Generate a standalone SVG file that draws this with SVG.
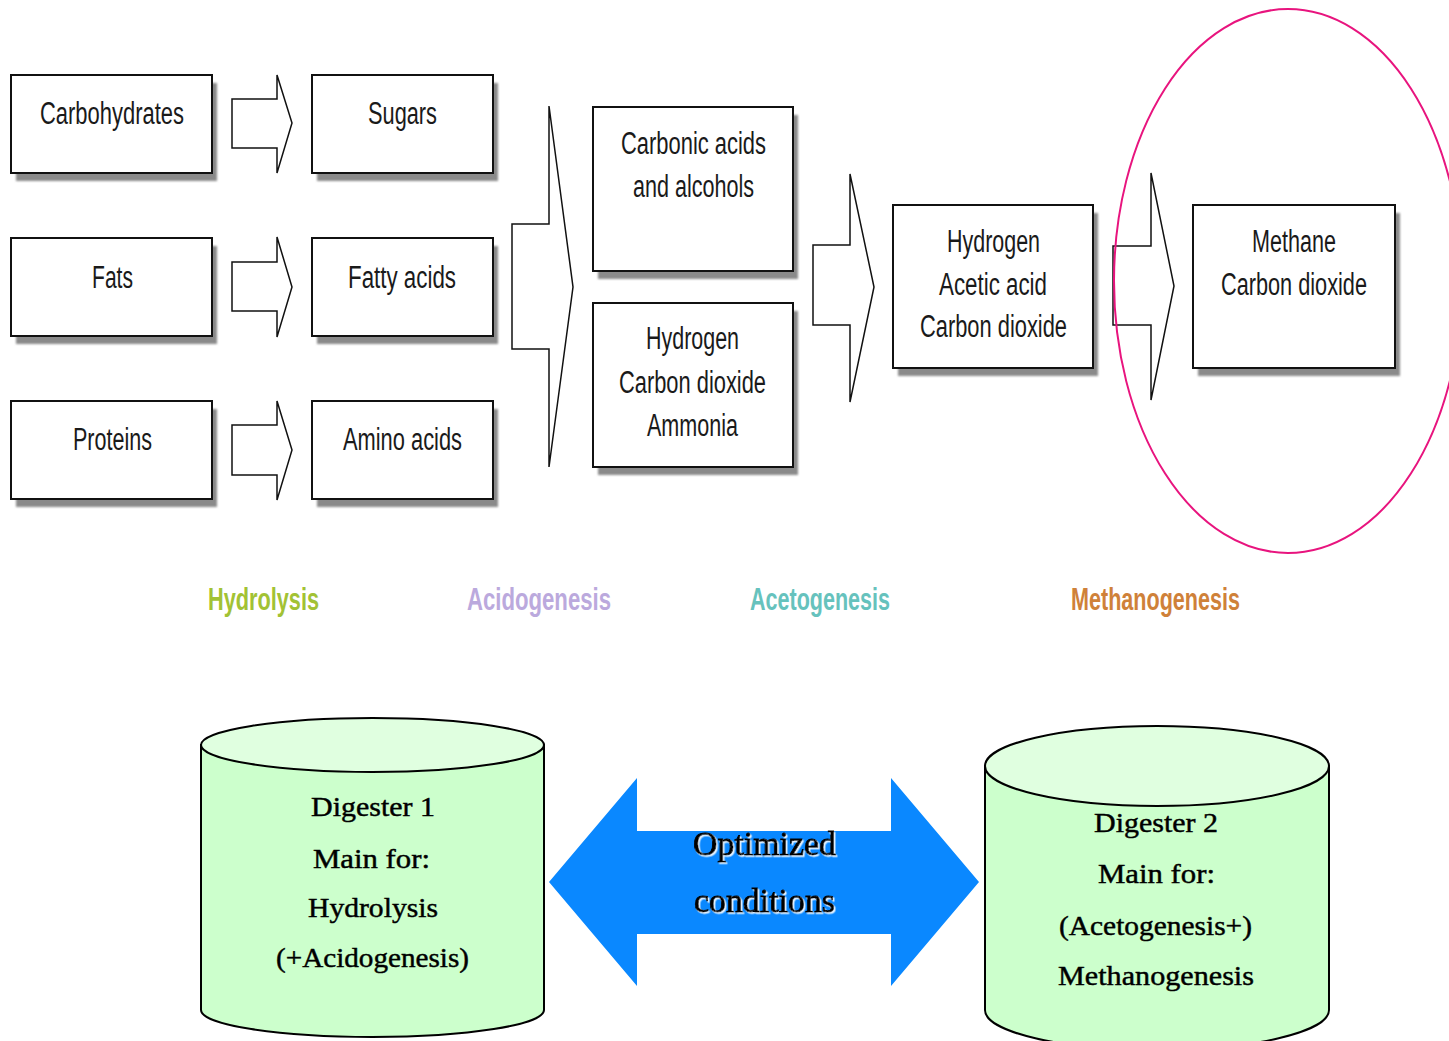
<svg xmlns="http://www.w3.org/2000/svg" width="1449" height="1041" viewBox="0 0 1449 1041">
  <defs>
    <filter id="soft" x="-5%" y="-5%" width="110%" height="110%">
      <feGaussianBlur stdDeviation="0.8"/>
    </filter>
    <filter id="halo" x="-10%" y="-30%" width="120%" height="160%">
      <feDropShadow dx="1.5" dy="1.5" stdDeviation="0.6" flood-color="#ffffff" flood-opacity="0.9"/>
    </filter>
  </defs>
  <style>
    .shadow { fill: #8a8a8a; filter: url(#soft); }
    .box { fill: #ffffff; stroke: #111111; stroke-width: 2; }
    .flow { fill: #ffffff; stroke: #111111; stroke-width: 1.5; stroke-linejoin: miter; }
    .lbl { font-family: "Liberation Sans Narrow", "Liberation Sans", Arial, sans-serif; font-size: 31px; fill: #1a1a1a; text-anchor: middle; }
    .phase { font-family: "Liberation Sans Narrow", "Liberation Sans", Arial, sans-serif; font-size: 32px; font-weight: bold; text-anchor: middle; }
    .tank-side { fill: #ccffcc; stroke: #000000; stroke-width: 2; }
    .tank-top { fill: #e0ffe0; stroke: #000000; stroke-width: 2; }
    .serif { font-family: "Liberation Serif", "Times New Roman", serif; font-size: 28px; fill: #000000; stroke: #000000; stroke-width: 0.45; text-anchor: middle; }
    .opt { font-family: "Liberation Serif", "Times New Roman", serif; font-size: 33px; fill: #000000; stroke: #000000; stroke-width: 0.8; text-anchor: middle; }
  </style>

  <rect x="0" y="0" width="1449" height="1041" fill="#ffffff"/>

  <!-- process flow arrows -->
  <g id="connectors">
    <polygon class="flow" points="232,99 277,99 277,75 292,123 277,173 277,148 232,148"/>
    <polygon class="flow" points="232,262 277,262 277,237 292,287 277,337 277,311 232,311"/>
    <polygon class="flow" points="232,425 277,425 277,401 292,450 277,500 277,475 232,475"/>
    <polygon class="flow" points="512,224 549,224 549,106 573,287 549,467 549,349 512,349"/>
    <polygon class="flow" points="813,245 850,245 850,174 874,287 850,402 850,325 813,325"/>
    <polygon class="flow" points="1113,246 1151,246 1151,173 1174,286 1151,400 1151,325 1113,325"/>
  </g>

  <!-- substrate boxes -->
  <g id="carbohydrates">
    <rect class="shadow" x="16" y="83" width="201" height="98"/>
    <rect class="box" x="11" y="75" width="201" height="98"/>
    <text class="lbl" x="112" y="124" textLength="144" lengthAdjust="spacingAndGlyphs">Carbohydrates</text>
  </g>
  <g id="sugars">
    <rect class="shadow" x="317" y="83" width="181" height="98"/>
    <rect class="box" x="312" y="75" width="181" height="98"/>
    <text class="lbl" x="402.5" y="124" textLength="69" lengthAdjust="spacingAndGlyphs">Sugars</text>
  </g>
  <g id="fats">
    <rect class="shadow" x="16" y="246" width="201" height="98"/>
    <rect class="box" x="11" y="238" width="201" height="98"/>
    <text class="lbl" x="112.5" y="288" textLength="41" lengthAdjust="spacingAndGlyphs">Fats</text>
  </g>
  <g id="fatty-acids">
    <rect class="shadow" x="317" y="246" width="181" height="98"/>
    <rect class="box" x="312" y="238" width="181" height="98"/>
    <text class="lbl" x="402" y="288" textLength="108" lengthAdjust="spacingAndGlyphs">Fatty acids</text>
  </g>
  <g id="proteins">
    <rect class="shadow" x="16" y="409" width="201" height="98"/>
    <rect class="box" x="11" y="401" width="201" height="98"/>
    <text class="lbl" x="112.5" y="450" textLength="79" lengthAdjust="spacingAndGlyphs">Proteins</text>
  </g>
  <g id="amino-acids">
    <rect class="shadow" x="317" y="409" width="181" height="98"/>
    <rect class="box" x="312" y="401" width="181" height="98"/>
    <text class="lbl" x="402.5" y="450" textLength="119" lengthAdjust="spacingAndGlyphs">Amino acids</text>
  </g>

  <!-- acidogenesis products -->
  <g id="carbonic-acids">
    <rect class="shadow" x="598" y="115" width="200" height="164"/>
    <rect class="box" x="593" y="107" width="200" height="164"/>
    <text class="lbl" x="693.5" y="154" textLength="145" lengthAdjust="spacingAndGlyphs">Carbonic acids</text>
    <text class="lbl" x="693.5" y="197" textLength="121" lengthAdjust="spacingAndGlyphs">and alcohols</text>
  </g>
  <g id="gases">
    <rect class="shadow" x="598" y="311" width="200" height="164"/>
    <rect class="box" x="593" y="303" width="200" height="164"/>
    <text class="lbl" x="692.5" y="349" textLength="93" lengthAdjust="spacingAndGlyphs">Hydrogen</text>
    <text class="lbl" x="692.5" y="393" textLength="147" lengthAdjust="spacingAndGlyphs">Carbon dioxide</text>
    <text class="lbl" x="692.5" y="436" textLength="91" lengthAdjust="spacingAndGlyphs">Ammonia</text>
  </g>

  <!-- acetogenesis products -->
  <g id="acetic">
    <rect class="shadow" x="898" y="213" width="200" height="163"/>
    <rect class="box" x="893" y="205" width="200" height="163"/>
    <text class="lbl" x="993.5" y="252" textLength="93" lengthAdjust="spacingAndGlyphs">Hydrogen</text>
    <text class="lbl" x="993" y="295" textLength="108" lengthAdjust="spacingAndGlyphs">Acetic acid</text>
    <text class="lbl" x="993.5" y="337" textLength="147" lengthAdjust="spacingAndGlyphs">Carbon dioxide</text>
  </g>

  <!-- methanogenesis products -->
  <g id="methane">
    <rect class="shadow" x="1198" y="213" width="202" height="163"/>
    <rect class="box" x="1193" y="205" width="202" height="163"/>
    <text class="lbl" x="1294" y="252" textLength="84" lengthAdjust="spacingAndGlyphs">Methane</text>
    <text class="lbl" x="1294" y="295" textLength="146" lengthAdjust="spacingAndGlyphs">Carbon dioxide</text>
  </g>

  <!-- highlight ring -->
  <g id="highlight">
    <ellipse cx="1288" cy="281" rx="174" ry="272" fill="none" stroke="#e8147e" stroke-width="2"/>
  </g>

  <!-- phase names -->
  <g id="phases">
    <text class="phase" x="263.5" y="610" fill="#a2c234" textLength="111" lengthAdjust="spacingAndGlyphs">Hydrolysis</text>
    <text class="phase" x="539" y="610" fill="#bba9dd" textLength="144" lengthAdjust="spacingAndGlyphs">Acidogenesis</text>
    <text class="phase" x="820" y="610" fill="#66c2bd" textLength="140" lengthAdjust="spacingAndGlyphs">Acetogenesis</text>
    <text class="phase" x="1155.5" y="610" fill="#cf8139" textLength="169" lengthAdjust="spacingAndGlyphs">Methanogenesis</text>
  </g>

  <!-- first digester -->
  <g id="digester-1">
    <path class="tank-side" d="M201,745 L201,1010 A171.5,27 0 0 0 544,1010 L544,745 Z"/>
    <ellipse class="tank-top" cx="372.5" cy="745" rx="171.5" ry="27"/>
    <text class="serif" x="373" y="816" textLength="124" lengthAdjust="spacingAndGlyphs">Digester 1</text>
    <text class="serif" x="371.5" y="868" textLength="117" lengthAdjust="spacingAndGlyphs">Main for:</text>
    <text class="serif" x="373" y="917" textLength="130" lengthAdjust="spacingAndGlyphs">Hydrolysis</text>
    <text class="serif" x="372.5" y="967" textLength="193" lengthAdjust="spacingAndGlyphs">(+Acidogenesis)</text>
  </g>

  <!-- link between digesters -->
  <g id="optimized">
    <polygon points="549,882 637,778 637,831 891,831 891,778 979,882 891,986 891,934 637,934 637,986" fill="#0a88ff"/>
    <g filter="url(#halo)">
      <text class="opt" x="764.5" y="855" textLength="143" lengthAdjust="spacingAndGlyphs">Optimized</text>
      <text class="opt" x="764.5" y="912" textLength="141" lengthAdjust="spacingAndGlyphs">conditions</text>
    </g>
  </g>

  <!-- second digester -->
  <g id="digester-2">
    <path class="tank-side" d="M985,766 L985,1010 A172,40 0 0 0 1329,1010 L1329,766 Z"/>
    <ellipse class="tank-top" cx="1157" cy="766" rx="172" ry="40"/>
    <text class="serif" x="1156" y="832" textLength="124" lengthAdjust="spacingAndGlyphs">Digester 2</text>
    <text class="serif" x="1156.5" y="883" textLength="117" lengthAdjust="spacingAndGlyphs">Main for:</text>
    <text class="serif" x="1155.5" y="935" textLength="193" lengthAdjust="spacingAndGlyphs">(Acetogenesis+)</text>
    <text class="serif" x="1156" y="985" textLength="196" lengthAdjust="spacingAndGlyphs">Methanogenesis</text>
  </g>
</svg>
